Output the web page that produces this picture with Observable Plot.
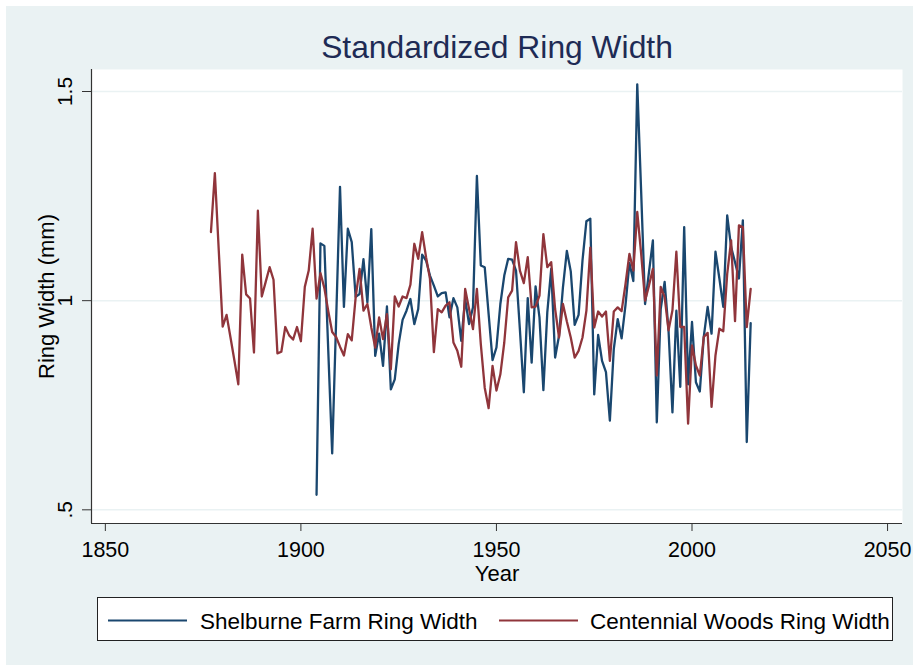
<!DOCTYPE html>
<html><head><meta charset="utf-8">
<script src="https://cdn.jsdelivr.net/npm/d3@7"></script>
<script src="https://cdn.jsdelivr.net/npm/@observablehq/plot@0.6"></script>
<style>
html,body{margin:0;padding:0;background:#fff;}
#wrap{position:relative;width:918px;height:670px;overflow:hidden;font-family:"Liberation Sans",Arial,sans-serif;}
#bg{position:absolute;left:6px;top:6px;width:907px;height:659px;background:#eaf2f3;}
#chart{position:absolute;left:0;top:0;}
#legend{position:absolute;left:0;top:0;}
</style></head><body>
<div id="wrap"><div id="bg"></div><div id="chart"></div><svg id="legend" width="918" height="670"></svg></div>
<script>
// ---- data ----
const title = "Standardized Ring Width";
const xLabel = "Year";
const yLabel = "Ring Width (mm)";
const seriesNames = ["Shelburne Farm Ring Width", "Centennial Woods Ring Width"];
const seriesColors = ["#1a476f", "#90353b"];
const xTicks = [1850, 1900, 1950, 2000, 2050];
const xTickLabels = ["1850", "1900", "1950", "2000", "2050"];
const yTicks = [0.5, 1, 1.5];
const yTickLabels = [".5", "1", "1.5"];
const xDomain = [1846.46, 2053.82];
const yDomain = [0.4673, 1.5526];

const shelburneStart = 1904;
const shelburne = [
  0.536, 1.137, 1.131, 0.88, 0.635, 0.95,
  1.272, 0.985, 1.172, 1.14, 1.009, 1.016, 1.099, 0.996, 1.171, 0.868,
  0.921, 0.844, 0.986, 0.788, 0.812, 0.896, 0.954, 0.976, 1.004, 0.944,
  0.98, 1.11, 1.096, 1.06, 1.036, 1.01, 1.018, 1.02, 0.96, 1.006,
  0.984, 0.904, 1.004, 0.944, 0.984, 1.298, 1.084, 1.08, 0.968, 0.858,
  0.888, 0.992, 1.06, 1.10, 1.098, 1.072, 0.93, 0.781, 1.006, 0.852,
  1.034, 0.96, 0.786, 0.972, 1.076, 0.864, 0.916, 1.032, 1.119, 1.07,
  0.942, 0.966, 1.096, 1.19, 1.196, 0.776, 0.918, 0.856, 0.829, 0.713,
  0.884, 0.956, 0.91, 0.99, 1.09, 1.047, 1.517, 1.26, 0.992, 1.068,
  1.144, 0.709, 0.98, 1.045, 0.928, 0.733, 0.976, 0.794, 1.176, 0.80,
  0.949, 0.805, 0.783, 0.913, 0.985, 0.921, 1.117, 1.053, 0.985, 1.204,
  1.128, 1.092, 1.053, 1.192, 0.662, 0.946
];

const centennialStart = 1877;
const centennial = [
  1.164, 1.305, 1.12,
  0.938, 0.966, 0.912, 0.857, 0.80, 1.11, 1.015, 1.005, 0.876, 1.215,
  1.01, 1.045, 1.08, 1.05, 0.874, 0.878, 0.937, 0.917, 0.907, 0.937,
  0.903, 1.033, 1.072, 1.172, 1.005, 1.066, 1.03, 0.975, 0.925, 0.913,
  0.89, 0.869, 0.92, 0.905, 1.008, 1.076, 0.976, 0.992, 0.936, 0.888,
  0.96, 0.908, 0.968, 0.836, 1.01, 0.986, 1.01, 1.006, 1.038, 1.136,
  1.10, 1.164, 1.104, 1.052, 0.877, 0.98, 0.972, 0.988, 0.996, 0.90,
  0.88, 0.842, 1.028, 0.98, 0.932, 1.028, 0.896, 0.792, 0.743, 0.844,
  0.785, 0.824, 0.90, 1.008, 1.024, 1.14, 1.072, 1.042, 1.104, 0.984,
  0.986, 1.012, 1.159, 1.08, 1.092, 0.98, 0.912, 0.992, 0.95, 0.912,
  0.864, 0.88, 0.912, 0.976, 1.127, 0.936, 0.974, 0.962, 0.974, 0.856,
  0.974, 0.984, 0.975, 1.04, 1.112, 1.072, 1.212, 1.112, 1.0, 1.036,
  1.076, 0.821, 1.033, 1.009, 0.929, 0.977, 1.117, 0.937, 0.937, 0.706,
  0.893, 0.845, 0.821, 0.913, 0.923, 0.746, 0.869, 0.933, 0.927, 1.064,
  1.144, 0.951, 1.18, 1.176, 0.937, 1.028
];

// ---- build tables ----
const shelburneData = shelburne.map((v, i) => ({year: shelburneStart + i, value: v}));
const centennialData = centennial.map((v, i) => ({year: centennialStart + i, value: v}));

const axisColor = "#333";
const gridColor = "#eaf2f3";
const titleColor = "#1e2b55";
const font = "'Liberation Sans', Arial, sans-serif";

const chart = Plot.plot({
  width: 918, height: 670,
  marginLeft: 91, marginRight: 16, marginTop: 69, marginBottom: 147,
  style: {background: "transparent", fontFamily: font, color: "#000"},
  x: {domain: xDomain},
  y: {domain: yDomain},
  marks: [
    Plot.frame({fill: "white", stroke: null}),
    Plot.gridY(yTicks, {stroke: gridColor, strokeOpacity: 1, strokeWidth: 1.5}),
    Plot.line(shelburneData, {x: "year", y: "value", stroke: seriesColors[0], strokeWidth: 2.3}),
    Plot.line(centennialData, {x: "year", y: "value", stroke: seriesColors[1], strokeWidth: 2.3}),
    Plot.ruleY([yDomain[0]], {stroke: axisColor, strokeWidth: 1.2}),
    Plot.ruleX([xDomain[0]], {stroke: axisColor, strokeWidth: 1.2}),
    Plot.axisX(xTicks, {tickSize: 8, tickPadding: 10.5, fontSize: 21.5, label: null,
      tickFormat: d => xTickLabels[xTicks.indexOf(d)], color: "#000", stroke: axisColor}),
    Plot.axisY(yTicks, {tickSize: 9, label: null, tickFormat: () => "", stroke: axisColor}),
    Plot.text(yTicks, {y: d => d, text: (d, i) => yTickLabels[i], frameAnchor: "left",
      rotate: -90, textAnchor: "middle", lineAnchor: "bottom", dx: -20, fontSize: 21, fill: "#000"}),
    Plot.text([yLabel], {text: d => d, frameAnchor: "left", rotate: -90, textAnchor: "middle",
      lineAnchor: "bottom", dx: -37.5, fontSize: 22, fill: "#000"}),
    Plot.text([xLabel], {text: d => d, frameAnchor: "bottom", lineAnchor: "bottom",
      dy: 57.7, fontSize: 22, fill: "#000"}),
    Plot.text([title], {text: d => d, frameAnchor: "top", lineAnchor: "bottom",
      dy: -11.7, fontSize: 31.8, fill: titleColor})
  ]
});
document.getElementById("chart").appendChild(chart);

// ---- legend ----
const lg = d3.select("#legend");
lg.append("rect").attr("x", 97.5).attr("y", 597.5).attr("width", 795).attr("height", 43)
  .attr("fill", "white").attr("stroke", "#222").attr("stroke-width", 1);
const items = [
  {x0: 108, x1: 187, tx: 200},
  {x0: 499, x1: 578, tx: 590}
];
items.forEach((it, i) => {
  lg.append("line").attr("x1", it.x0).attr("x2", it.x1).attr("y1", 620.5).attr("y2", 620.5)
    .attr("stroke", seriesColors[i]).attr("stroke-width", 2);
  lg.append("text").attr("x", it.tx).attr("y", 629).attr("font-family", font)
    .attr("font-size", 22.5).attr("fill", "#000").text(seriesNames[i]);
});
</script>
</body></html>
